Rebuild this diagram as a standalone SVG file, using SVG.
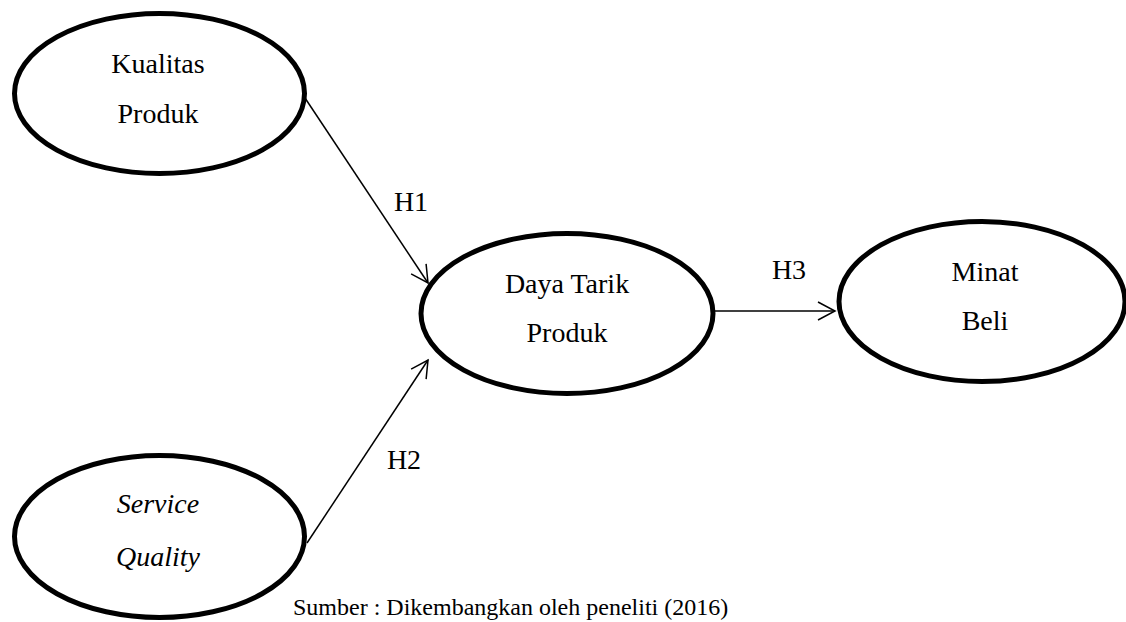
<svg xmlns="http://www.w3.org/2000/svg" width="1126" height="622" viewBox="0 0 1126 622">
<style>
.node{fill:#fff;stroke:#000;stroke-width:5}
.t{font-family:"Liberation Serif","Times New Roman",Times,serif;font-size:28px;fill:#000;text-anchor:middle}
.i{font-style:italic}
.edge{stroke:#000;stroke-width:1.5;fill:none}
.cap{font-family:"Liberation Serif","Times New Roman",Times,serif;font-size:24px;fill:#000}
</style>
<defs>
<marker id="arr" markerWidth="20" markerHeight="20" refX="18" refY="10" orient="auto" markerUnits="userSpaceOnUse">
<path d="M1,1 L18,10 L1,19" fill="none" stroke="#000" stroke-width="1.5"/>
</marker>
</defs>
<g id="kualitas-produk">
<ellipse class="node" cx="159.5" cy="93.5" rx="145" ry="80"/>
<text class="t" x="158" y="73">Kualitas</text>
<text class="t" x="158" y="123">Produk</text>
</g>
<g id="daya-tarik-produk">
<ellipse class="node" cx="567" cy="313.5" rx="146" ry="80"/>
<text class="t" x="567" y="293">Daya Tarik</text>
<text class="t" x="567" y="342">Produk</text>
</g>
<g id="minat-beli">
<ellipse class="node" cx="982" cy="301.5" rx="143" ry="80"/>
<text class="t" x="985" y="281">Minat</text>
<text class="t" x="985" y="330">Beli</text>
</g>
<g id="service-quality">
<ellipse class="node" cx="159.5" cy="536.5" rx="145" ry="81"/>
<text class="t i" x="158" y="513">Service</text>
<text class="t i" x="158" y="566">Quality</text>
</g>
<g id="connectors">
<line class="edge" x1="305" y1="98" x2="428" y2="283" marker-end="url(#arr)"/>
<line class="edge" x1="307" y1="543" x2="428" y2="360" marker-end="url(#arr)"/>
<line class="edge" x1="714" y1="311" x2="835" y2="311" marker-end="url(#arr)"/>
<text class="t" x="411" y="211">H1</text>
<text class="t" x="404" y="469">H2</text>
<text class="t" x="789" y="279">H3</text>
</g>
<text class="cap" x="293" y="615">Sumber : Dikembangkan oleh peneliti (2016)</text>
</svg>
